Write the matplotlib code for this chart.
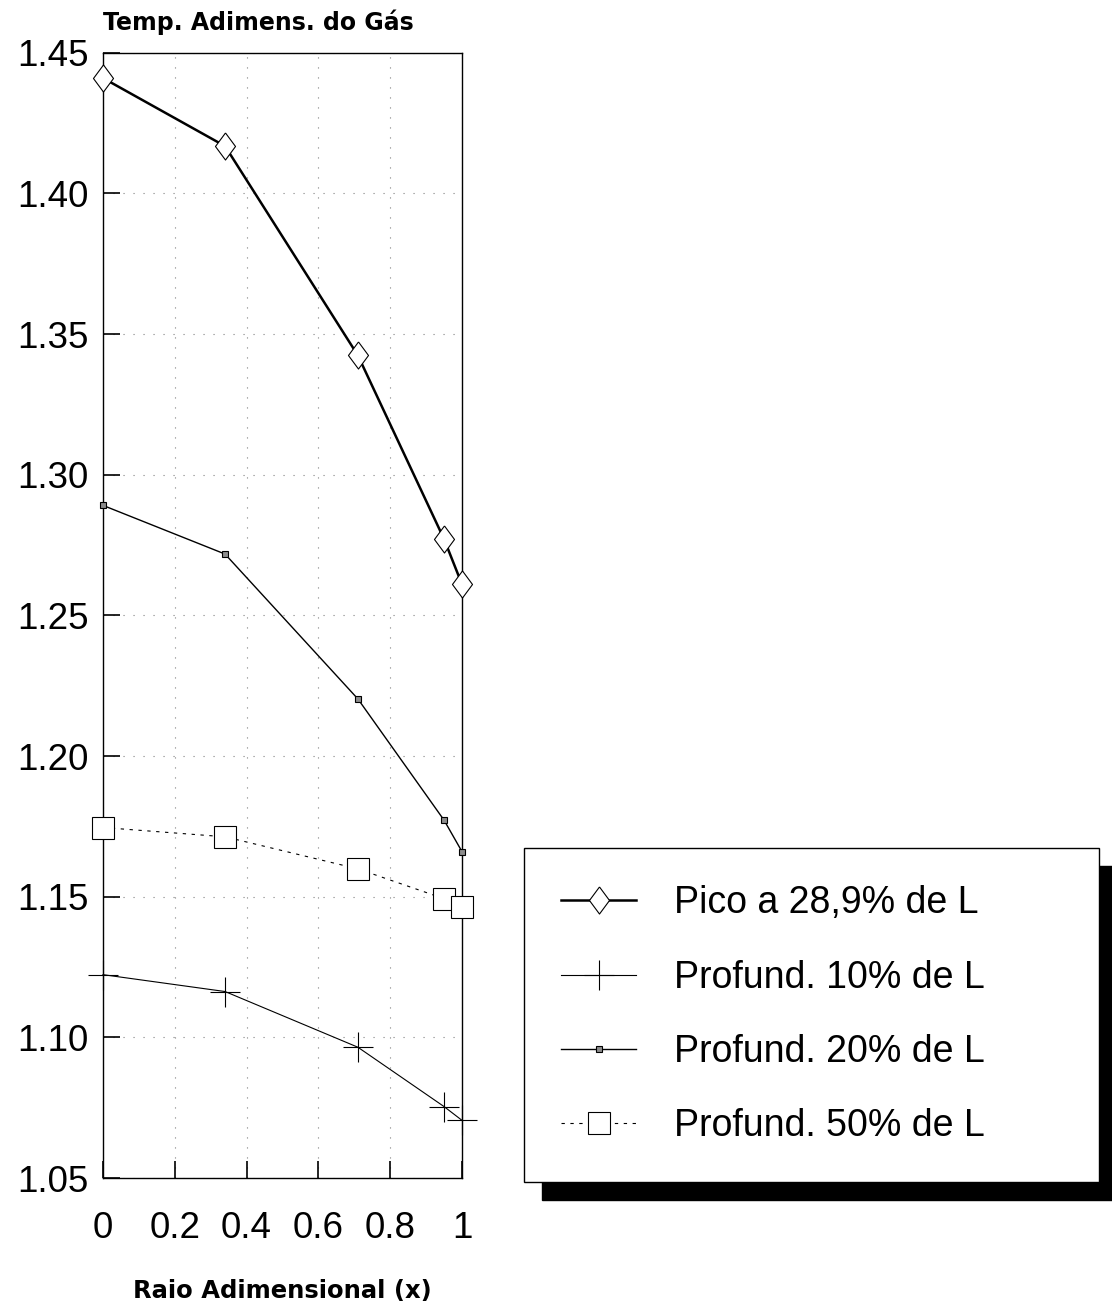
import matplotlib
matplotlib.use("Agg")
import matplotlib.pyplot as plt
from matplotlib.patches import Rectangle

# raio adimensional (x)
raio = [0.0, 0.34, 0.71, 0.95, 1.0]

# temperatura adimensional do gas
pico_289 = [1.441, 1.4168, 1.3424, 1.2771, 1.261]
prof_10 = [1.1223, 1.1163, 1.0965, 1.0754, 1.0705]
prof_20 = [1.2891, 1.2718, 1.2203, 1.1772, 1.166]
prof_50 = [1.1746, 1.1713, 1.1599, 1.1493, 1.1465]

nomes = ["Pico a 28,9% de L", "Profund. 10% de L",
         "Profund. 20% de L", "Profund. 50% de L"]

yticks = [1.05, 1.10, 1.15, 1.20, 1.25, 1.30, 1.35, 1.40, 1.45]
xticks = [0, 0.2, 0.4, 0.6, 0.8, 1.0]
xtick_labels = ["0", "0.2", "0.4", "0.6", "0.8", "1"]

plt.rcParams['font.family'] = ['Liberation Sans', 'DejaVu Sans']

fig = plt.figure(figsize=(11.12, 13.02), dpi=100)
ax = fig.add_axes([0.0926, 0.0952, 0.3229, 0.8643])

losango = [(0, 1), (0.74, 0), (0, -1), (-0.74, 0), (0, 1)]

ax.plot(raio, pico_289, color='black', lw=1.8, marker=losango, ms=19.5,
        mfc='white', mec='black', mew=0.8, clip_on=False, zorder=5, label=nomes[0])
ax.plot(raio, prof_10, color='black', lw=0.8, marker='+', ms=21,
        mew=0.8, clip_on=False, zorder=4, label=nomes[1])
ax.plot(raio, prof_20, color='black', lw=1.0, marker='s', ms=4.5,
        mfc='0.55', mec='black', mew=0.8, clip_on=False, zorder=4, label=nomes[2])
ax.plot(raio, prof_50, color='black', lw=0.8, ls=(0, (3, 5)), marker='s', ms=15.5,
        mfc='white', mec='black', mew=0.8, clip_on=False, zorder=3, label=nomes[3])

ax.set_xlim(0, 1)
ax.set_ylim(1.05, 1.45)
ax.set_yticks(yticks, ["%.2f" % v for v in yticks])
ax.set_xticks(xticks, xtick_labels)
ax.tick_params(direction='in', length=12, width=1.2, labelsize=26.5,
               top=False, right=False)
ax.tick_params(axis='y', pad=10.5)
ax.tick_params(axis='x', pad=24)
ax.grid(True, color='0.5', lw=0.8, ls=(0, (1, 8)))
for s in ax.spines.values():
    s.set_linewidth(1.0)

fig.text(0.0926, 0.977, "Temp. Adimens. do Gás", fontsize=17,
         fontweight='bold', family='DejaVu Sans', ha='left', va='baseline')
ax.set_xlabel("Raio Adimensional (x)", fontsize=17.5, fontweight='bold',
              family='DejaVu Sans', va='baseline')
ax.xaxis.set_label_coords(0.5, -0.1065)

handles, labels = ax.get_legend_handles_labels()
leg = fig.legend(handles, labels, loc='upper left',
                 bbox_to_anchor=(0.4712, 0.0, 0.5171, 0.3487), mode='expand',
                 borderaxespad=0, fontsize=27, handlelength=2.0,
                 handletextpad=1.0, borderpad=1.0, labelspacing=1.02,
                 fancybox=False, framealpha=1, edgecolor='black', numpoints=1)
leg.get_frame().set_linewidth(1.0)
leg.set_zorder(5)

# sombra preta deslocada atras da legenda
fig.canvas.draw()
bb = leg.get_window_extent().transformed(fig.transFigure.inverted())
dx, dy = 18 / 1112, 18 / 1302
fig.add_artist(Rectangle((bb.x0 + dx, bb.y0 - dy), bb.width, bb.height,
                         transform=fig.transFigure, color='black', zorder=4))

plt.savefig('out.png', dpi=100)
